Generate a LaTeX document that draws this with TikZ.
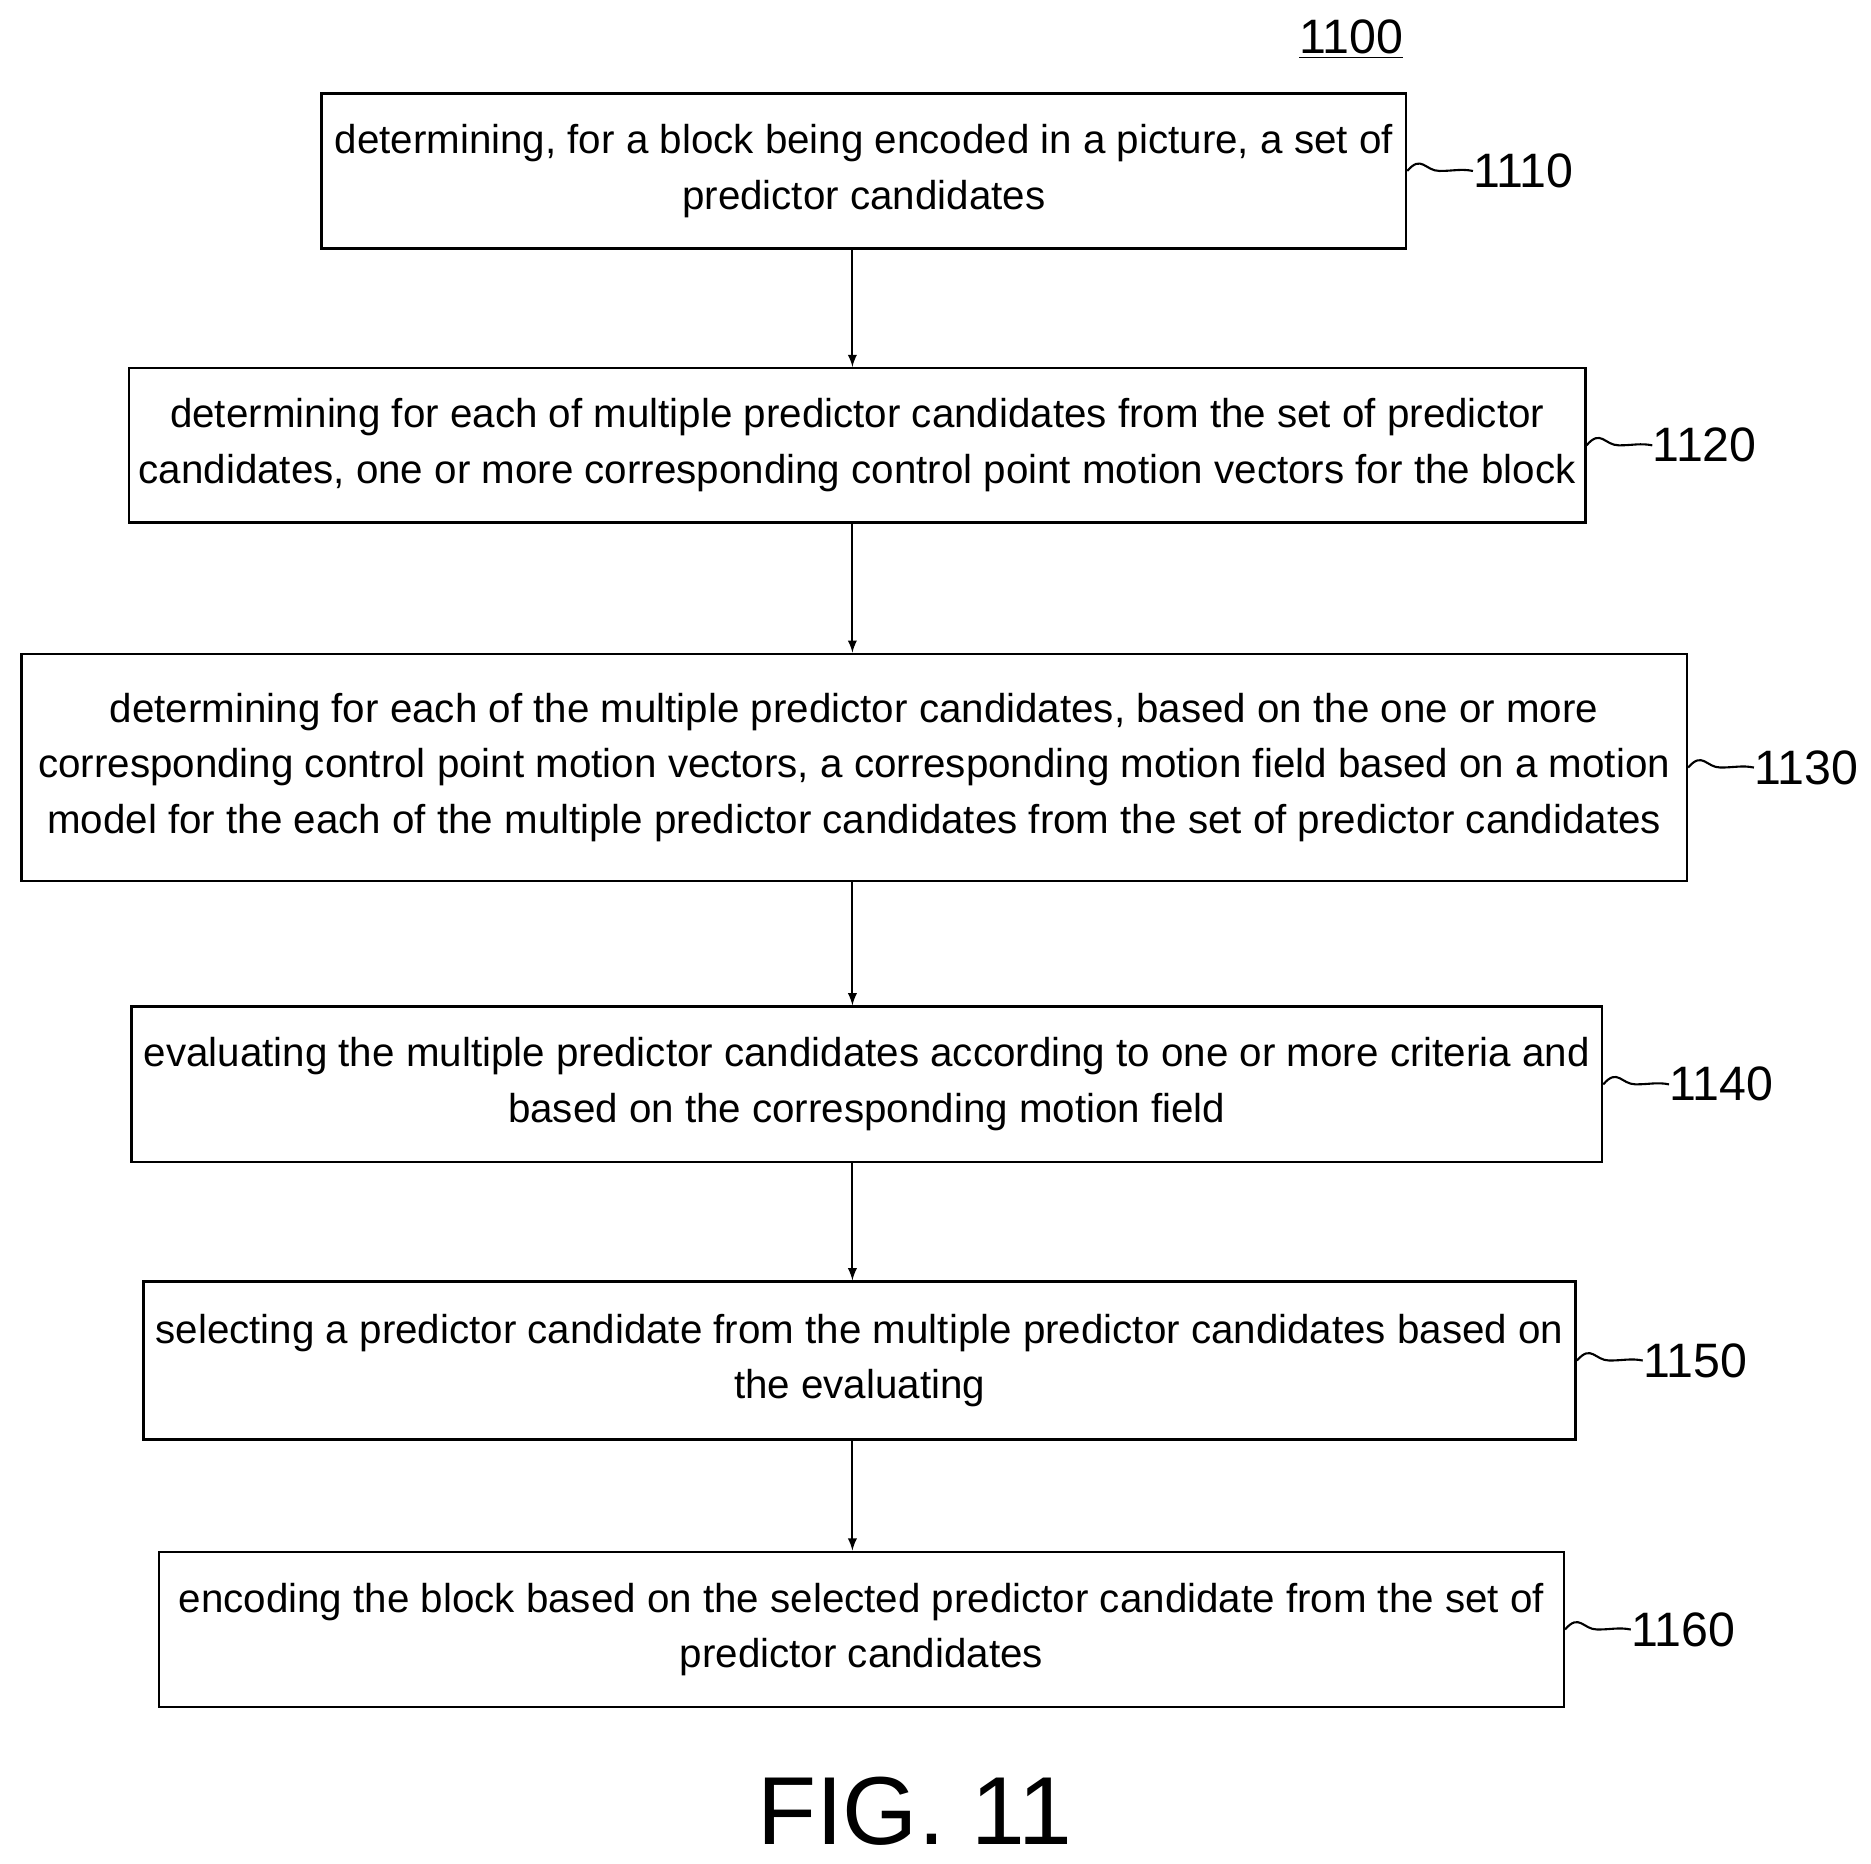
\documentclass[tikz,border=0pt]{standalone}
\usepackage{fontspec}
\setmainfont{Liberation Sans}
\begin{document}
\begin{tikzpicture}[x=0.02cm,y=-0.02cm,
 box/.style={draw,line width=1.2pt,inner sep=0pt,align=center,font=\fontsize{19.2}{26.5}\selectfont},
 lab/.style={font=\fontsize{23}{28}\selectfont,anchor=west,inner sep=0pt},
 arr/.style={-latex,line width=1pt}]
\useasboundingbox (0,0) rectangle (1565,1559);
\newcommand\bx[6]{\node[box,minimum width={(#3-#2)*0.02cm},minimum height={(#5-#4)*0.02cm}] (#1) at ({(#2+#3)/2},{(#4+#5)/2}) {#6};}
\bx{b1}{269}{1176}{78}{208}{determining, for a block being encoded in a picture, a set of\\predictor candidates}
\bx{b2}{108}{1326}{308}{437}{determining for each of multiple predictor candidates from the set of predictor\\candidates, one or more corresponding control point motion vectors for the block}
\bx{b3}{18}{1411}{547}{737}{determining for each of the multiple predictor candidates, based on the one or more\\corresponding control point motion vectors, a corresponding motion field based on a motion\\model for the each of the multiple predictor candidates from the set of predictor candidates}
\bx{b4}{110}{1340}{842}{972}{evaluating the multiple predictor candidates according to one or more criteria and\\based on the corresponding motion field}
\bx{b5}{120}{1318}{1072}{1204}{selecting a predictor candidate from the multiple predictor candidates based on\\the evaluating}
\bx{b6}{133}{1308}{1298}{1428}{encoding the block based on the selected predictor candidate from the set of\\predictor candidates}
\foreach \a/\b in {b1/b2,b2/b3,b3/b4,b4/b5,b5/b6}{\draw[arr] (\a.south -| 713,0) -- (\b.north -| 713,0);}
\foreach \n/\t in {b1/1110,b2/1120,b3/1130,b4/1140,b5/1150,b6/1160}{
 \node[lab] (l\t) at ([xshift={55*0.02cm}]\n.east) {\t};
 \draw[line width=1pt] (\n.east) .. controls +(12,-14) and +(-12,0) .. ++(27,0) .. controls +(12,0) and +(-10,-2) .. (l\t.west);}
\node[font=\fontsize{23}{28}\selectfont,inner sep=1pt] (t) at (1130,33) {\underline{1100}};
\node[font=\fontsize{46}{54}\selectfont] (fig) at (765,1515) {FIG. 11};
\end{tikzpicture}
\end{document}
